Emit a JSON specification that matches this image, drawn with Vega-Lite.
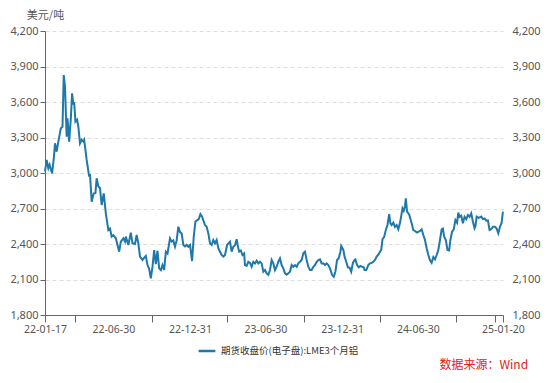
{
  "$schema": "https://vega.github.io/schema/vega-lite/v6.json",
  "autosize": {"type": "none"},
  "width": 458,
  "height": 284,
  "padding": {"left": 45, "top": 31, "right": 47, "bottom": 68},
  "background": "white",
  "config": {
    "view": {"stroke": null},
    "font": "Noto Sans, Noto Sans CJK SC",
    "axis": {"labelFont": "Noto Sans, Noto Sans CJK SC", "labelFontSize": 11, "labelColor": "#555555", "titleFont": "Noto Sans CJK SC"},
    "legend": {"labelFont": "Noto Sans CJK SC", "labelFontSize": 9.5, "labelColor": "#333333"}
  },
  "title": {
    "text": "数据来源：Wind",
    "orient": "bottom",
    "anchor": "end",
    "color": "#e0201c",
    "fontSize": 12,
    "fontWeight": "normal",
    "font": "Noto Sans CJK SC",
    "offset": 4,
    "dx": -12
  },
  "data": {
    "values": [
      {"d":"2022-01-17","v":3011},{"d":"2022-01-21","v":3110},{"d":"2022-01-25","v":3040},{"d":"2022-01-28","v":3070},
      {"d":"2022-02-03","v":2997},{"d":"2022-02-07","v":3120},{"d":"2022-02-10","v":3251},{"d":"2022-02-14","v":3180},
      {"d":"2022-02-18","v":3265},{"d":"2022-02-24","v":3378},{"d":"2022-02-28","v":3390},{"d":"2022-03-03","v":3828},
      {"d":"2022-03-06","v":3730},{"d":"2022-03-10","v":3307},{"d":"2022-03-12","v":3462},{"d":"2022-03-16","v":3265},
      {"d":"2022-03-20","v":3462},{"d":"2022-03-23","v":3673},{"d":"2022-03-26","v":3580},{"d":"2022-03-28","v":3600},
      {"d":"2022-03-31","v":3434},{"d":"2022-04-04","v":3450},{"d":"2022-04-07","v":3391},{"d":"2022-04-11","v":3251},
      {"d":"2022-04-15","v":3280},{"d":"2022-04-19","v":3265},{"d":"2022-04-21","v":3279},{"d":"2022-04-27","v":3110},
      {"d":"2022-05-03","v":2969},{"d":"2022-05-05","v":2990},{"d":"2022-05-09","v":2757},{"d":"2022-05-14","v":2828},
      {"d":"2022-05-18","v":2830},{"d":"2022-05-21","v":2955},{"d":"2022-05-25","v":2888},{"d":"2022-05-29","v":2871},
      {"d":"2022-06-02","v":2730},{"d":"2022-06-07","v":2828},{"d":"2022-06-12","v":2659},{"d":"2022-06-18","v":2518},
      {"d":"2022-06-22","v":2530},{"d":"2022-06-26","v":2462},{"d":"2022-06-30","v":2475},{"d":"2022-07-06","v":2448},
      {"d":"2022-07-10","v":2392},{"d":"2022-07-14","v":2335},{"d":"2022-07-18","v":2420},{"d":"2022-07-24","v":2448},
      {"d":"2022-07-28","v":2420},{"d":"2022-07-30","v":2462},{"d":"2022-08-05","v":2392},{"d":"2022-08-11","v":2496},
      {"d":"2022-08-15","v":2406},{"d":"2022-08-21","v":2400},{"d":"2022-08-25","v":2476},{"d":"2022-08-29","v":2406},
      {"d":"2022-09-02","v":2293},{"d":"2022-09-08","v":2265},{"d":"2022-09-11","v":2280},{"d":"2022-09-16","v":2299},
      {"d":"2022-09-20","v":2222},{"d":"2022-09-24","v":2190},{"d":"2022-09-28","v":2110},{"d":"2022-10-02","v":2208},
      {"d":"2022-10-06","v":2349},{"d":"2022-10-10","v":2230},{"d":"2022-10-14","v":2343},{"d":"2022-10-18","v":2194},
      {"d":"2022-10-22","v":2180},{"d":"2022-10-26","v":2222},{"d":"2022-10-30","v":2180},{"d":"2022-11-03","v":2335},
      {"d":"2022-11-07","v":2320},{"d":"2022-11-13","v":2448},{"d":"2022-11-17","v":2420},{"d":"2022-11-21","v":2430},
      {"d":"2022-11-25","v":2377},{"d":"2022-11-29","v":2430},{"d":"2022-12-03","v":2546},{"d":"2022-12-07","v":2500},
      {"d":"2022-12-11","v":2490},{"d":"2022-12-15","v":2392},{"d":"2022-12-19","v":2380},{"d":"2022-12-23","v":2392},
      {"d":"2022-12-27","v":2377},{"d":"2022-12-31","v":2392},{"d":"2023-01-05","v":2256},{"d":"2023-01-09","v":2462},
      {"d":"2023-01-13","v":2589},{"d":"2023-01-17","v":2600},{"d":"2023-01-21","v":2610},{"d":"2023-01-25","v":2653},
      {"d":"2023-01-29","v":2630},{"d":"2023-02-01","v":2600},{"d":"2023-02-05","v":2560},{"d":"2023-02-09","v":2545},
      {"d":"2023-02-13","v":2490},{"d":"2023-02-17","v":2406},{"d":"2023-02-21","v":2392},{"d":"2023-02-25","v":2434},
      {"d":"2023-03-01","v":2406},{"d":"2023-03-05","v":2434},{"d":"2023-03-09","v":2364},{"d":"2023-03-13","v":2335},
      {"d":"2023-03-17","v":2307},{"d":"2023-03-21","v":2293},{"d":"2023-03-25","v":2307},{"d":"2023-03-30","v":2392},
      {"d":"2023-04-06","v":2420},{"d":"2023-04-10","v":2335},{"d":"2023-04-14","v":2377},{"d":"2023-04-18","v":2390},
      {"d":"2023-04-22","v":2440},{"d":"2023-04-25","v":2380},{"d":"2023-04-28","v":2335},{"d":"2023-05-02","v":2345},
      {"d":"2023-05-06","v":2307},{"d":"2023-05-10","v":2320},{"d":"2023-05-12","v":2222},{"d":"2023-05-16","v":2215},
      {"d":"2023-05-20","v":2250},{"d":"2023-05-24","v":2240},{"d":"2023-05-28","v":2208},{"d":"2023-06-01","v":2250},
      {"d":"2023-06-05","v":2236},{"d":"2023-06-09","v":2259},{"d":"2023-06-13","v":2236},{"d":"2023-06-17","v":2250},
      {"d":"2023-06-21","v":2236},{"d":"2023-06-25","v":2166},{"d":"2023-06-29","v":2180},{"d":"2023-07-03","v":2152},
      {"d":"2023-07-07","v":2140},{"d":"2023-07-11","v":2180},{"d":"2023-07-15","v":2265},{"d":"2023-07-19","v":2236},
      {"d":"2023-07-23","v":2180},{"d":"2023-07-27","v":2208},{"d":"2023-07-31","v":2250},{"d":"2023-08-04","v":2278},
      {"d":"2023-08-08","v":2222},{"d":"2023-08-12","v":2194},{"d":"2023-08-16","v":2152},{"d":"2023-08-20","v":2140},
      {"d":"2023-08-24","v":2152},{"d":"2023-08-28","v":2166},{"d":"2023-09-01","v":2222},{"d":"2023-09-05","v":2208},
      {"d":"2023-09-09","v":2222},{"d":"2023-09-13","v":2208},{"d":"2023-09-17","v":2236},{"d":"2023-09-21","v":2250},
      {"d":"2023-09-25","v":2265},{"d":"2023-09-29","v":2321},{"d":"2023-10-03","v":2335},{"d":"2023-10-07","v":2265},
      {"d":"2023-10-11","v":2208},{"d":"2023-10-15","v":2180},{"d":"2023-10-19","v":2180},{"d":"2023-10-23","v":2208},
      {"d":"2023-10-27","v":2222},{"d":"2023-10-31","v":2250},{"d":"2023-11-04","v":2265},{"d":"2023-11-08","v":2271},
      {"d":"2023-11-12","v":2236},{"d":"2023-11-16","v":2236},{"d":"2023-11-20","v":2222},{"d":"2023-11-24","v":2236},
      {"d":"2023-11-28","v":2222},{"d":"2023-12-02","v":2194},{"d":"2023-12-07","v":2140},{"d":"2023-12-11","v":2123},
      {"d":"2023-12-15","v":2166},{"d":"2023-12-19","v":2265},{"d":"2023-12-23","v":2280},{"d":"2023-12-27","v":2335},
      {"d":"2023-12-29","v":2383},{"d":"2024-01-03","v":2350},{"d":"2024-01-06","v":2293},{"d":"2024-01-10","v":2250},
      {"d":"2024-01-14","v":2203},{"d":"2024-01-18","v":2200},{"d":"2024-01-22","v":2166},{"d":"2024-01-26","v":2240},
      {"d":"2024-01-30","v":2265},{"d":"2024-02-01","v":2270},{"d":"2024-02-05","v":2222},{"d":"2024-02-09","v":2203},
      {"d":"2024-02-13","v":2215},{"d":"2024-02-17","v":2208},{"d":"2024-02-21","v":2203},{"d":"2024-02-23","v":2180},
      {"d":"2024-02-27","v":2180},{"d":"2024-03-03","v":2222},{"d":"2024-03-07","v":2236},{"d":"2024-03-11","v":2240},
      {"d":"2024-03-15","v":2250},{"d":"2024-03-19","v":2265},{"d":"2024-03-23","v":2293},{"d":"2024-03-27","v":2310},
      {"d":"2024-03-31","v":2335},{"d":"2024-04-03","v":2350},{"d":"2024-04-06","v":2440},{"d":"2024-04-10","v":2460},
      {"d":"2024-04-14","v":2518},{"d":"2024-04-18","v":2560},{"d":"2024-04-22","v":2653},{"d":"2024-04-25","v":2575},
      {"d":"2024-04-28","v":2560},{"d":"2024-05-02","v":2580},{"d":"2024-05-06","v":2545},{"d":"2024-05-10","v":2560},
      {"d":"2024-05-14","v":2524},{"d":"2024-05-18","v":2580},{"d":"2024-05-20","v":2617},{"d":"2024-05-24","v":2702},
      {"d":"2024-05-27","v":2680},{"d":"2024-05-30","v":2720},{"d":"2024-06-01","v":2786},{"d":"2024-06-04","v":2673},
      {"d":"2024-06-09","v":2650},{"d":"2024-06-15","v":2575},{"d":"2024-06-19","v":2518},{"d":"2024-06-23","v":2510},
      {"d":"2024-06-28","v":2496},{"d":"2024-07-05","v":2510},{"d":"2024-07-09","v":2524},{"d":"2024-07-13","v":2476},
      {"d":"2024-07-17","v":2434},{"d":"2024-07-21","v":2364},{"d":"2024-07-25","v":2307},{"d":"2024-07-29","v":2265},
      {"d":"2024-08-02","v":2242},{"d":"2024-08-06","v":2290},{"d":"2024-08-10","v":2270},{"d":"2024-08-14","v":2307},
      {"d":"2024-08-18","v":2350},{"d":"2024-08-22","v":2434},{"d":"2024-08-26","v":2524},{"d":"2024-08-29","v":2530},
      {"d":"2024-09-01","v":2462},{"d":"2024-09-05","v":2434},{"d":"2024-09-09","v":2349},{"d":"2024-09-13","v":2345},
      {"d":"2024-09-16","v":2434},{"d":"2024-09-20","v":2504},{"d":"2024-09-24","v":2524},{"d":"2024-09-28","v":2603},
      {"d":"2024-10-02","v":2580},{"d":"2024-10-05","v":2665},{"d":"2024-10-08","v":2630},{"d":"2024-10-12","v":2640},
      {"d":"2024-10-16","v":2575},{"d":"2024-10-20","v":2630},{"d":"2024-10-24","v":2610},{"d":"2024-10-28","v":2645},
      {"d":"2024-11-01","v":2630},{"d":"2024-11-05","v":2659},{"d":"2024-11-09","v":2590},{"d":"2024-11-13","v":2533},
      {"d":"2024-11-15","v":2550},{"d":"2024-11-18","v":2631},{"d":"2024-11-23","v":2620},{"d":"2024-11-29","v":2631},
      {"d":"2024-12-03","v":2610},{"d":"2024-12-07","v":2615},{"d":"2024-12-11","v":2597},{"d":"2024-12-15","v":2600},
      {"d":"2024-12-19","v":2518},{"d":"2024-12-23","v":2525},{"d":"2024-12-27","v":2546},{"d":"2025-01-01","v":2545},
      {"d":"2025-01-05","v":2530},{"d":"2025-01-09","v":2490},{"d":"2025-01-13","v":2546},{"d":"2025-01-17","v":2580},
      {"d":"2025-01-20","v":2673}
    ]
  },
  "layer": [
    {
      "mark": {"type": "line", "strokeWidth": 2, "interpolate": "linear"},
      "encoding": {
        "x": {
          "field": "d", "type": "temporal",
          "scale": {"type": "utc", "nice": false, "domain": [1642377600000, 1737352800000]},
          "axis": {
            "title": null,
            "grid": false,
            "domainColor": "#666666",
            "tickColor": "#666666",
            "tickSize": 7,
            "tickCount": 40,
            "labelPadding": 2,
            "labelFontSize": 10.5,
            "labelOverlap": false,
            "labelFlush": false,
            "labelBound": false,
            "values": [1642377600000, 1648684800000, 1656547200000, 1664496000000, 1672444800000, 1680220800000, 1688083200000, 1696032000000, 1703980800000, 1711843200000, 1719705600000, 1727654400000, 1735603200000, 1737331200000],
            "labelExpr": "indexof(['22-01-17','22-06-30','22-12-31','23-06-30','23-12-31','24-06-30','25-01-20'], utcFormat(datum.value,'%y-%m-%d')) >= 0 ? utcFormat(datum.value,'%y-%m-%d') : ''",
            "tickOpacity": {"condition": {"test": "indexof(['22-06-30','22-12-31','23-06-30','23-12-31','24-06-30'], utcFormat(datum.value,'%y-%m-%d')) >= 0", "value": 0}, "value": 1}
          }
        },
        "y": {
          "field": "v", "type": "quantitative",
          "scale": {"domain": [1800, 4200], "nice": false, "zero": false},
          "axis": {
            "orient": "left",
            "values": [1800, 2100, 2400, 2700, 3000, 3300, 3600, 3900, 4200],
            "format": ",.0f",
            "grid": true,
            "gridColor": "#dddddd",
            "gridDash": [4, 3],
            "domainColor": "#666666",
            "tickColor": "#666666",
            "tickSize": 5,
            "labelPadding": 2,
            "title": "美元/吨",
            "titleAngle": 0,
            "titleAlign": "center",
            "titleBaseline": "middle",
            "titleX": 0,
            "titleY": -16,
            "titleFontSize": 11,
            "titleFontWeight": "normal",
            "titleColor": "#555555"
          }
        },
        "color": {
          "datum": "期货收盘价(电子盘):LME3个月铝",
          "type": "nominal",
          "scale": {"range": ["#1f78aa"]},
          "legend": {"title": null, "orient": "none", "legendX": 152, "legendY": 310, "direction": "horizontal", "symbolType": "stroke", "symbolStrokeWidth": 2.5, "symbolSize": 280}
        }
      }
    },
    {
      "mark": {"type": "line", "strokeOpacity": 0},
      "encoding": {
        "x": {"field": "d", "type": "temporal"},
        "y": {
          "field": "v", "type": "quantitative",
          "scale": {"domain": [1800, 4200], "nice": false, "zero": false},
          "axis": {
            "orient": "right",
            "values": [1800, 2100, 2400, 2700, 3000, 3300, 3600, 3900, 4200],
            "format": ",.0f",
            "grid": false,
            "domain": false,
            "ticks": false,
            "labelPadding": 9,
            "title": null
          }
        }
      }
    }
  ],
  "resolve": {"scale": {"y": "independent"}}
}
